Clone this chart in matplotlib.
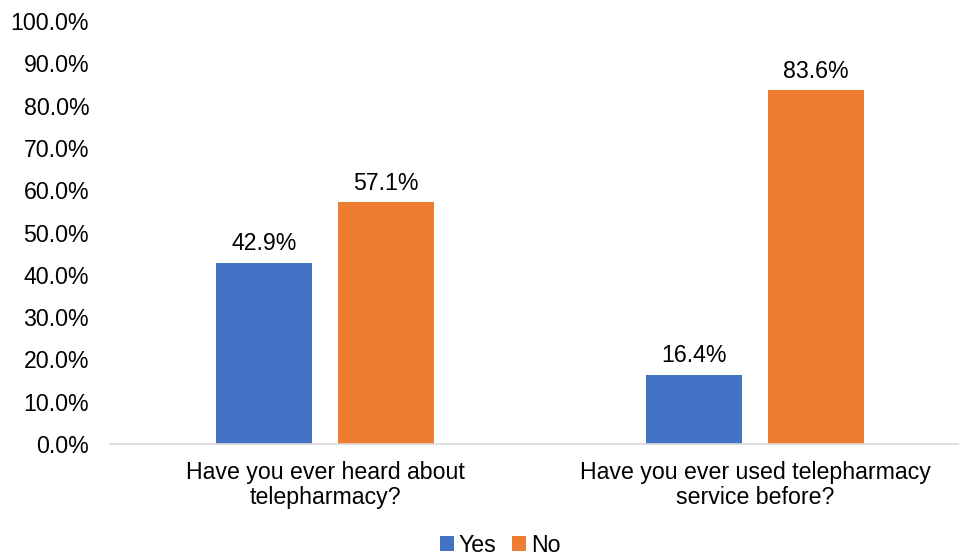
import matplotlib
matplotlib.use("Agg")
import matplotlib.pyplot as plt
import numpy as np

categories = ["Have you ever heard about\ntelepharmacy?", "Have you ever used telepharmacy\nservice before?"]
series_names = ["Yes", "No"]
yes_vals = [42.9, 16.4]
no_vals = [57.1, 83.6]
yticks = [0, 10, 20, 30, 40, 50, 60, 70, 80, 90, 100]

plt.rcParams['font.family'] = ['Liberation Sans', 'DejaVu Sans']
FS = 16.7

fig = plt.figure(figsize=(9.59, 5.56), dpi=100)
ax = fig.add_axes([110/959, 1-444/556, 860/959, (444-21)/556])

x = np.arange(len(categories))
w = 0.223
off = 0.142
b1 = ax.bar(x - off, yes_vals, w, color="#4472C4", label=series_names[0])
b2 = ax.bar(x + off, no_vals, w, color="#ED7D31", label=series_names[1])

for bars, vals in ((b1, yes_vals), (b2, no_vals)):
    for r, v in zip(bars, vals):
        ax.text(r.get_x() + r.get_width()/2, v + 1.8, f"{v:.1f}%", ha="center", va="bottom",
                fontsize=FS, color="#000000")

ax.set_xlim(-0.5, 1.5)
ax.set_ylim(0, 100)
ax.set_yticks(yticks)
ax.set_yticklabels([f"{t:.1f}%" for t in yticks], fontsize=FS)
ax.set_xticks(x)
ax.set_xticklabels(categories, fontsize=FS, linespacing=1.13)
ax.tick_params(axis='both', length=0, colors="#000000")
ax.tick_params(axis='y', pad=15)
ax.tick_params(axis='x', pad=12)
for s in ["top", "right", "left"]:
    ax.spines[s].set_visible(False)
ax.spines["bottom"].set_color("#D9D9D9")
ax.spines["bottom"].set_linewidth(1.2)

leg = fig.legend(handles=[b1, b2], labels=series_names, loc="center", bbox_to_anchor=(500/959, 1-545/556),
                 ncol=2, frameon=False, fontsize=FS, handlelength=0.6, handleheight=0.6,
                 handletextpad=0.2, columnspacing=0.7, borderaxespad=0)

fig.savefig("out.png", dpi=100)
